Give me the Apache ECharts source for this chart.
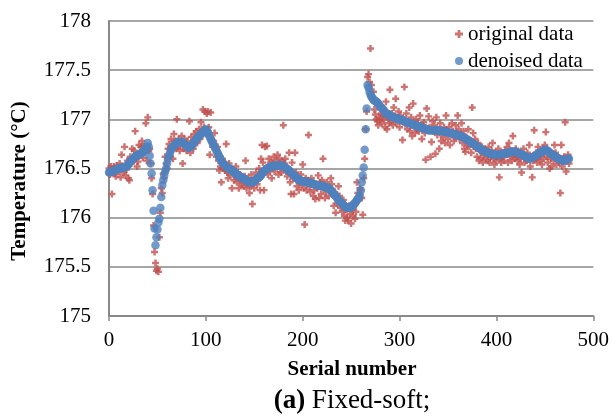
<!DOCTYPE html>
<html>
<head>
<meta charset="utf-8">
<script src="https://cdn.jsdelivr.net/npm/echarts@6/dist/echarts.min.js"></script>
<style>
html,body{margin:0;padding:0;background:#fff;}
#chart{width:612px;height:416px;}
</style>
</head>
<body>
<div id="chart"></div>
<script>
var seriesNames = ['original data', 'denoised data'];
var xAxisTitle = 'Serial number';
var yAxisTitle = 'Temperature (°C)';
var captionBold = '(a)';
var captionText = ' Fixed-soft;';

var originalData = [
176.50,176.44,176.52,176.24,176.48,176.52,176.45,176.42,176.53,176.50,
176.47,176.55,176.41,176.64,176.52,176.46,176.72,176.43,176.49,176.58,
176.40,176.38,176.62,176.55,176.70,176.58,176.68,176.88,176.60,176.52,
176.57,176.74,176.63,176.72,176.78,176.61,176.73,176.66,176.96,176.58,
177.02,176.68,176.70,176.55,176.40,176.24,175.92,175.65,175.54,175.46,
175.48,175.45,175.80,176.05,176.30,176.25,176.45,176.40,176.62,176.55,
176.50,176.70,176.75,176.62,176.80,176.72,176.60,176.85,176.78,176.70,
177.00,176.72,176.80,176.68,176.76,176.83,176.55,176.70,176.80,176.75,
176.68,176.78,176.72,176.98,176.66,176.82,176.74,176.70,176.85,176.78,
176.88,176.76,176.82,176.90,176.80,176.97,176.86,177.10,176.92,177.08,
176.85,177.06,177.08,176.92,176.64,177.07,176.80,176.72,176.78,176.86,
176.70,176.62,176.72,176.58,176.48,176.52,176.36,176.60,176.50,176.56,
176.48,176.75,176.46,176.40,176.55,176.44,176.50,176.30,176.48,176.38,
176.42,176.52,176.36,176.46,176.30,176.44,176.38,176.34,176.40,176.32,
176.42,176.58,176.30,176.36,176.40,176.25,176.32,176.44,176.14,176.35,
176.30,176.38,176.46,176.34,176.42,176.50,176.28,176.60,176.74,176.56,
176.28,176.72,176.50,176.73,176.44,176.60,176.48,176.56,176.40,176.55,
176.62,176.47,176.58,176.52,176.64,176.44,176.60,176.50,176.46,176.58,
176.94,176.55,176.60,176.47,176.42,176.50,176.66,176.36,176.24,176.56,
176.40,176.24,176.66,176.46,176.32,176.42,176.28,176.36,176.44,176.34,
176.54,176.30,175.93,176.40,176.28,176.38,176.84,176.32,176.26,176.40,
176.36,176.22,176.28,176.19,176.34,176.30,176.43,176.20,176.36,176.24,
176.38,176.60,176.32,176.20,176.26,176.36,176.30,176.22,176.28,176.40,
176.34,176.24,176.12,176.26,176.05,176.20,176.14,176.32,176.22,176.10,
176.16,176.06,176.18,176.02,175.97,176.08,176.00,175.97,176.12,176.04,
175.94,176.08,176.02,176.16,175.99,176.06,176.36,176.25,176.22,176.30,
176.28,176.20,176.03,176.40,176.60,176.90,177.08,177.43,177.46,177.38,
177.72,177.35,177.20,177.28,177.10,177.05,177.00,176.98,176.94,177.02,
176.99,177.06,176.96,177.04,177.00,176.92,177.18,176.90,177.02,176.96,
177.30,176.98,177.06,176.94,177.12,177.02,177.21,176.96,177.00,177.08,
176.92,177.04,177.00,176.79,176.98,177.33,176.95,177.06,176.90,176.98,
177.12,176.88,177.02,176.83,177.16,176.94,176.86,177.00,176.90,176.96,
176.88,177.04,176.92,176.80,176.94,176.97,176.86,176.59,177.11,176.90,
177.03,176.92,176.62,176.77,176.98,176.88,176.94,176.65,177.02,176.84,
176.90,176.70,176.96,176.78,176.88,176.82,176.92,176.76,177.04,176.86,
176.80,176.92,176.74,176.85,176.96,176.88,176.78,176.82,176.94,176.86,
177.04,176.90,176.80,176.84,176.96,176.76,176.88,176.70,176.67,176.82,
176.74,176.90,176.72,176.78,176.66,177.12,176.86,176.72,176.80,176.70,
176.62,176.76,176.58,176.68,176.61,176.72,176.56,176.64,176.70,176.60,
176.66,176.58,176.72,176.56,176.62,176.68,176.76,176.60,176.54,176.66,
176.58,176.62,176.70,176.41,176.60,176.56,176.66,176.62,176.58,176.68,
176.64,176.72,176.56,176.76,176.62,176.68,176.58,176.83,176.64,176.60,
176.70,176.62,176.58,176.66,176.54,176.60,176.46,176.64,176.70,176.56,
176.62,176.58,176.66,176.60,176.74,176.52,176.62,176.41,176.58,176.89,
176.60,176.66,176.56,176.72,176.62,176.58,176.64,176.54,176.70,176.60,
176.74,176.87,176.62,176.56,176.66,176.50,176.60,176.52,176.64,176.58,
176.74,176.66,176.54,176.62,176.60,176.56,176.25,176.74,176.52,176.60,
176.62,176.97,176.47,176.58,176.64,176.55
];

var denoisedData = [
176.46,176.46,176.47,176.47,176.47,176.48,176.48,176.49,176.49,176.50,
176.50,176.50,176.50,176.51,176.51,176.51,176.51,176.52,176.52,176.53,
176.54,176.56,176.57,176.58,176.59,176.60,176.61,176.62,176.63,176.63,
176.64,176.64,176.65,176.65,176.66,176.67,176.68,176.69,176.70,176.72,
176.76,176.72,176.63,176.55,176.45,176.28,176.07,175.89,175.72,175.80,
175.88,175.95,175.99,176.10,176.21,176.33,176.38,176.43,176.47,176.50,
176.55,176.60,176.63,176.66,176.69,176.71,176.72,176.73,176.74,176.75,
176.76,176.77,176.77,176.77,176.77,176.77,176.77,176.76,176.75,176.74,
176.73,176.72,176.71,176.71,176.72,176.73,176.74,176.76,176.77,176.78,
176.80,176.81,176.82,176.83,176.84,176.85,176.86,176.87,176.88,176.89,
176.90,176.89,176.87,176.85,176.82,176.80,176.78,176.76,176.74,176.72,
176.70,176.68,176.66,176.64,176.62,176.60,176.58,176.56,176.55,176.54,
176.53,176.52,176.51,176.50,176.50,176.49,176.49,176.48,176.47,176.46,
176.46,176.45,176.44,176.43,176.43,176.42,176.41,176.41,176.40,176.40,
176.39,176.38,176.38,176.37,176.37,176.36,176.36,176.36,176.36,176.37,
176.37,176.38,176.39,176.40,176.40,176.41,176.42,176.43,176.45,176.46,
176.47,176.48,176.49,176.50,176.50,176.51,176.51,176.52,176.52,176.52,
176.52,176.53,176.53,176.53,176.53,176.53,176.53,176.53,176.53,176.53,
176.52,176.52,176.51,176.50,176.49,176.49,176.48,176.47,176.46,176.45,
176.44,176.43,176.42,176.41,176.40,176.39,176.38,176.38,176.38,176.37,
176.37,176.37,176.37,176.36,176.36,176.36,176.36,176.36,176.35,176.35,
176.35,176.34,176.34,176.34,176.33,176.33,176.33,176.33,176.33,176.32,
176.32,176.32,176.32,176.31,176.31,176.31,176.30,176.30,176.29,176.28,
176.27,176.26,176.24,176.23,176.22,176.21,176.19,176.18,176.17,176.16,
176.15,176.14,176.13,176.12,176.11,176.10,176.10,176.10,176.10,176.10,
176.11,176.11,176.12,176.14,176.15,176.16,176.18,176.19,176.20,176.23,
176.28,176.36,176.43,176.51,176.69,176.90,177.11,177.35,177.32,177.28,
177.25,177.23,177.22,177.20,177.19,177.19,177.18,177.17,177.16,177.14,
177.13,177.12,177.11,177.10,177.09,177.07,177.06,177.06,177.05,177.05,
177.04,177.03,177.03,177.02,177.02,177.02,177.01,177.01,177.01,177.00,
177.00,177.00,176.99,176.99,176.99,176.98,176.98,176.97,176.97,176.97,
176.96,176.96,176.96,176.95,176.95,176.94,176.94,176.94,176.93,176.93,
176.93,176.92,176.92,176.92,176.91,176.91,176.91,176.90,176.90,176.90,
176.89,176.89,176.89,176.89,176.89,176.89,176.89,176.89,176.89,176.89,
176.89,176.89,176.88,176.88,176.88,176.88,176.88,176.87,176.87,176.87,
176.87,176.86,176.86,176.86,176.86,176.85,176.85,176.85,176.84,176.84,
176.84,176.84,176.83,176.83,176.83,176.82,176.82,176.81,176.80,176.80,
176.79,176.79,176.78,176.77,176.76,176.76,176.75,176.75,176.74,176.73,
176.72,176.72,176.71,176.70,176.70,176.69,176.68,176.68,176.67,176.67,
176.66,176.66,176.66,176.65,176.65,176.65,176.65,176.64,176.64,176.64,
176.64,176.64,176.64,176.64,176.64,176.64,176.65,176.65,176.65,176.65,
176.65,176.66,176.66,176.66,176.66,176.67,176.67,176.67,176.67,176.67,
176.67,176.66,176.66,176.66,176.65,176.65,176.64,176.64,176.63,176.63,
176.62,176.62,176.61,176.61,176.60,176.60,176.61,176.61,176.62,176.62,
176.63,176.63,176.64,176.65,176.65,176.66,176.66,176.67,176.68,176.68,
176.69,176.69,176.68,176.68,176.67,176.66,176.65,176.65,176.64,176.63,
176.63,176.62,176.61,176.61,176.60,176.60,176.59,176.59,176.58,176.58,
176.58,176.58,176.59,176.59,176.60,176.60
];

function toPairs(arr) {
  var out = [];
  for (var i = 0; i < arr.length; i++) out.push([i, arr[i]]);
  return out;
}

var serif = '"Liberation Serif", "Times New Roman", serif';
var gridColor = '#898989';

var chart = echarts.init(document.getElementById('chart'), null, {renderer: 'canvas'});
chart.setOption({
  animation: false,
  backgroundColor: '#ffffff',
  grid: {left: 109, right: 16, top: 21, bottom: 100, containLabel: false},
  xAxis: {
    type: 'value', min: 0, max: 500, interval: 100,
    axisLine: {show: true, lineStyle: {color: gridColor, width: 2}},
    axisTick: {show: true, length: 5, lineStyle: {color: gridColor, width: 1.5}},
    axisLabel: {color: '#000', fontFamily: serif, fontSize: 21, margin: 14},
    splitLine: {show: false}
  },
  yAxis: {
    type: 'value', min: 175, max: 178, interval: 0.5,
    axisLine: {show: true, lineStyle: {color: gridColor, width: 2}},
    axisTick: {show: false},
    axisLabel: {color: '#000', fontFamily: serif, fontSize: 21, margin: 18},
    splitLine: {show: true, lineStyle: {color: gridColor, width: 1.5}}
  },
  legend: {
    orient: 'vertical', left: 455, top: 23, padding: 0,
    itemWidth: 8, itemHeight: 8, itemGap: 5,
    textStyle: {fontFamily: serif, fontSize: 21, color: '#000', lineHeight: 22},
    data: seriesNames
  },
  series: [
    {
      name: seriesNames[0], type: 'scatter',
      symbol: 'path://M2.6,0 H5.4 V2.6 H8 V5.4 H5.4 V8 H2.6 V5.4 H0 V2.6 H2.6 Z',
      symbolSize: 7,
      itemStyle: {color: '#C0504D'},
      data: toPairs(originalData), z: 2
    },
    {
      name: seriesNames[1], type: 'scatter',
      symbol: 'circle', symbolSize: 8.5,
      itemStyle: {color: '#4F81BD'},
      data: toPairs(denoisedData), z: 3
    }
  ],
  graphic: [
    {
      type: 'text', x: 20, y: 181, rotation: Math.PI / 2,
      style: {text: yAxisTitle, fontFamily: serif, fontSize: 21, fontWeight: 'bold',
        fill: '#000', align: 'center', verticalAlign: 'middle'}
    },
    {
      type: 'text', x: 352, y: 370,
      style: {text: xAxisTitle, fontFamily: serif, fontSize: 21, fontWeight: 'bold',
        fill: '#000', align: 'center', verticalAlign: 'middle'}
    },
    {
      type: 'text', x: 352, y: 401,
      style: {text: '{b|' + captionBold + '}' + captionText, fontFamily: serif, fontSize: 27,
        fill: '#000', align: 'center', verticalAlign: 'middle',
        rich: {b: {fontFamily: serif, fontSize: 27, fontWeight: 'bold', fill: '#000'}}}
    }
  ]
});
</script>
</body>
</html>
